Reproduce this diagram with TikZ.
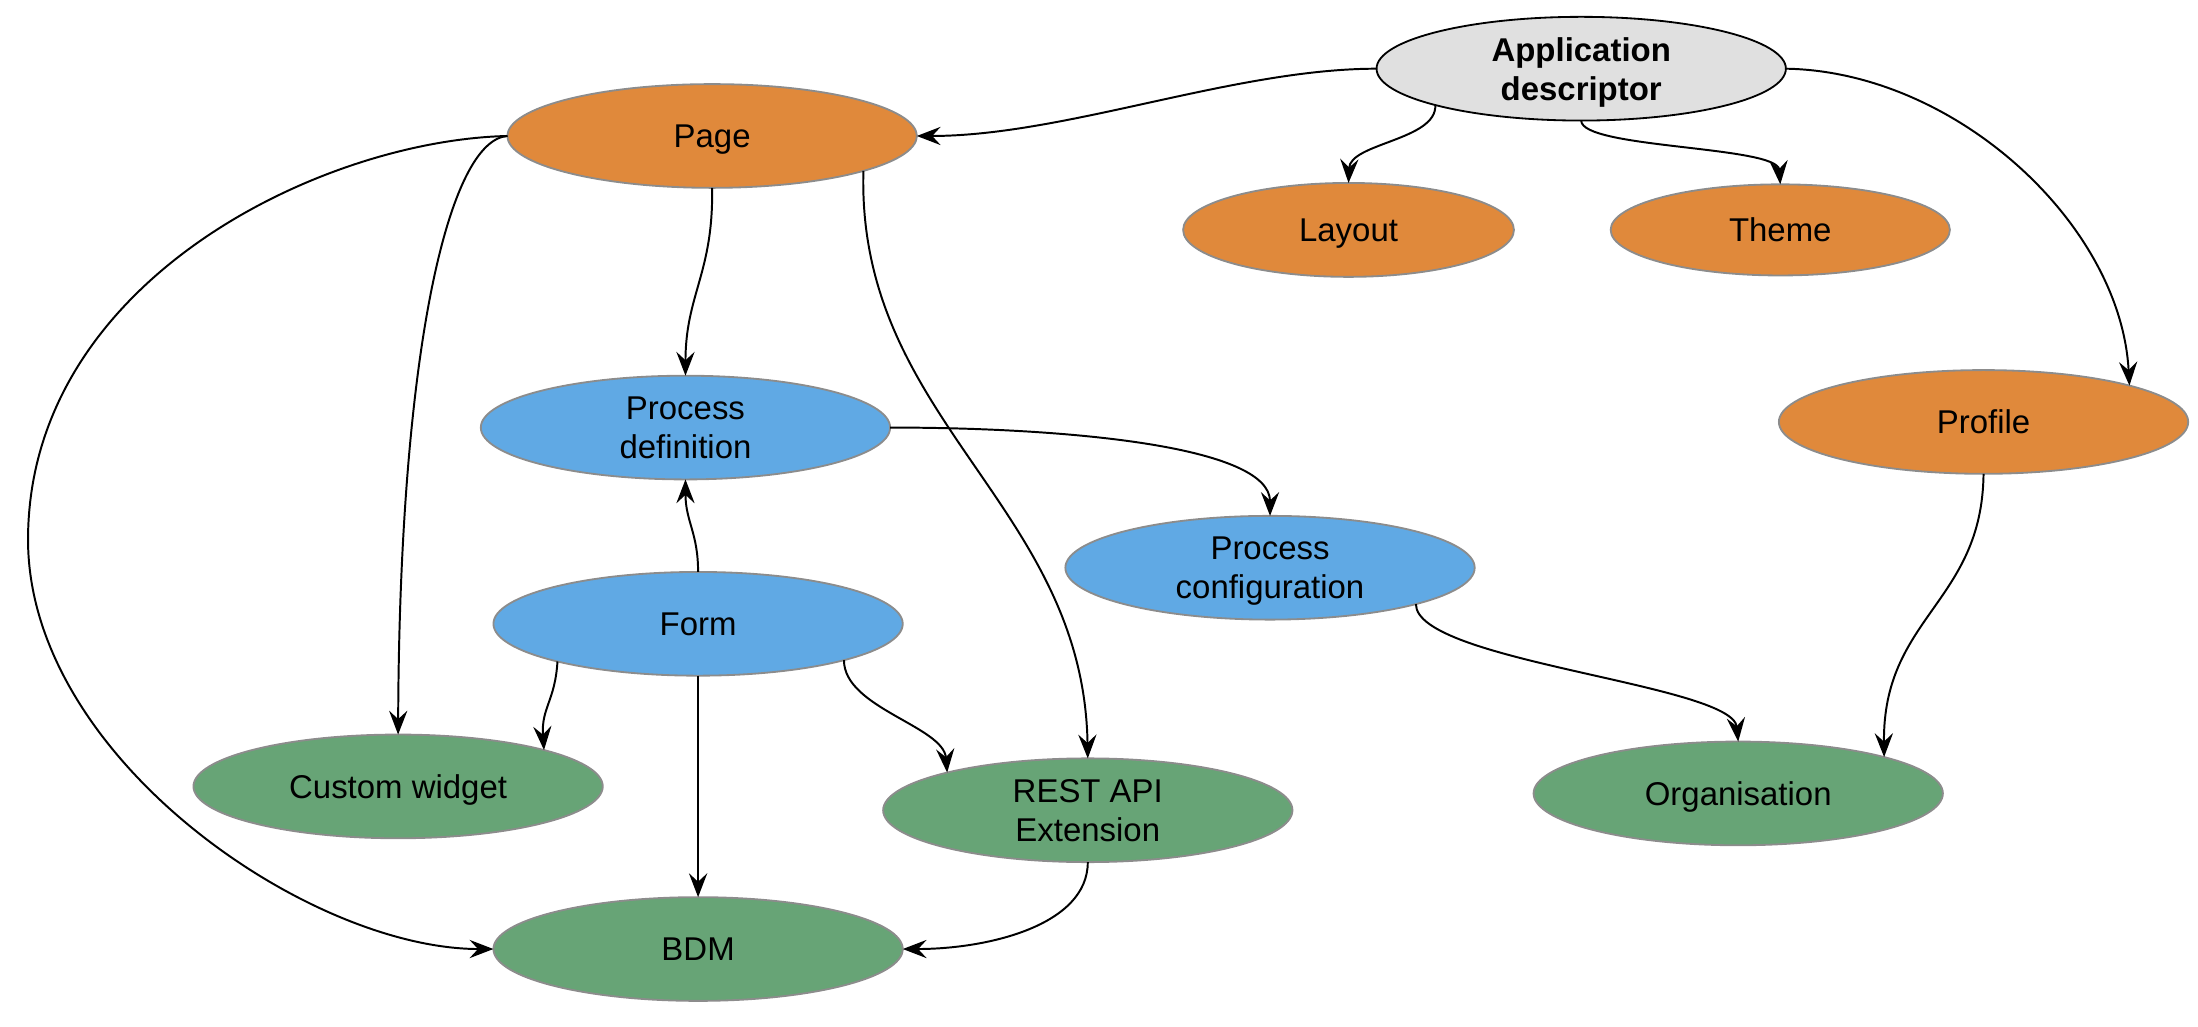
\documentclass[tikz,border=0pt]{standalone}
\usepackage{fontspec}
\setmainfont{Liberation Sans}
\usetikzlibrary{arrows.meta,shapes.geometric}
\definecolor{descgray}{HTML}{E0E0E0}
\definecolor{uiorange}{HTML}{E0893B}
\definecolor{procblue}{HTML}{60A9E4}
\definecolor{datagreen}{HTML}{67A476}
\definecolor{rimgray}{HTML}{8C8C8C}
\tikzset{
  artefact/.style={ellipse, draw=rimgray, line width=1.3pt, inner sep=0pt, outer sep=0pt,
    minimum width=292pt, minimum height=74pt, align=center, text depth=0pt,
    font=\fontsize{23.5}{28}\selectfont},
  uipart/.style={artefact, fill=uiorange},
  procpart/.style={artefact, fill=procblue},
  datapart/.style={artefact, fill=datagreen},
  link/.style={line width=1.4pt, -{Stealth[length=17pt,width=13pt,inset=6pt]}}
}

\begin{document}
\begin{tikzpicture}[x=1pt,y=-1pt]
\useasboundingbox (0,0) rectangle (1568,732);
\node[artefact, fill=descgray, draw=black, font=\fontsize{23.5}{28}\selectfont\bfseries] (app) at (1128,49) {Application\\descriptor};
\node[uipart] (page) at (508,97) {Page};
\node[uipart, minimum width=236pt, minimum height=67pt] (layout) at (962,164) {Layout};
\node[uipart, minimum width=242pt, minimum height=65pt] (theme) at (1270,164) {Theme};
\node[uipart] (profile) at (1415,301) {Profile};
\node[procpart] (procdef) at (489,305) {Process\\definition};
\node[procpart] (proccfg) at (906,405) {Process\\configuration};
\node[procpart] (form) at (498,445) {Form};
\node[datapart] (widget) at (284,561) {Custom widget};
\node[datapart] (rest) at (776,578) {REST API\\Extension};
\node[datapart] (bdm) at (498,677) {BDM};
\node[datapart] (org) at (1240,566) {Organisation};

\draw[link] (app.west) .. controls (880,49) and (760,97) .. (page.east);
\draw[link] (app.-166) .. controls (1025,100) and (963,102) .. (layout.north);
\draw[link] (app.south) .. controls (1128,106) and (1268,104) .. (theme.north);
\draw[link] (app.east) .. controls (1395,51) and (1513,160) .. (profile.14.5);
\draw[link] (page.south) .. controls (509,195) and (489,210) .. (procdef.north);
\draw[link] (page.-13.5) .. controls (611,300) and (773,360) .. (rest.north);
\draw[link] (page.west) .. controls (320,100) and (285,250) .. (widget.north);
\draw[link] (page.west) .. controls (230,100) and (20,200) .. (20,385)
  .. controls (20,540) and (220,677) .. (bdm.west);
\draw[link] (procdef.east) .. controls (760,305) and (906,318) .. (proccfg.north);
\draw[link] (form.north) .. controls (498,380) and (489,372) .. (procdef.south);
\draw[link] (form.-165.5) .. controls (396,500) and (386,505) .. (widget.14.5);
\draw[link] (form.south) -- (bdm.north);
\draw[link] (form.-14) .. controls (602,505) and (673,518) .. (rest.165.5);
\draw[link] (rest.south) .. controls (776,660) and (705,677) .. (bdm.east);
\draw[link] (proccfg.-14) .. controls (1010,472) and (1236,488) .. (org.north);
\draw[link] (profile.south) .. controls (1414,430) and (1343,440) .. (org.14.5);
\end{tikzpicture}
\end{document}
